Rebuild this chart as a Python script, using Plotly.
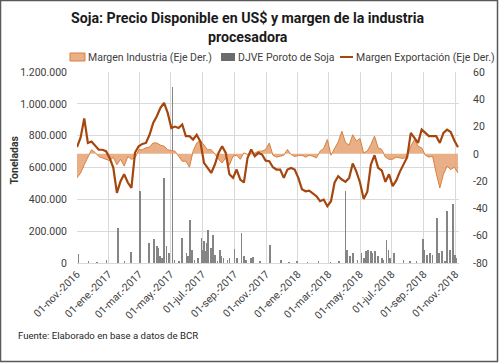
import pandas as pd
import plotly.graph_objects as go

# ---------------- data ----------------
week_start = "2016-11-01"
n_weeks = 106
dates = pd.date_range(week_start, periods=n_weeks, freq="7D")

margen_exportacion = [
    5, 12, 26, 8, 9, 5.6, 3, 3, 2, -3,
    -10, -28.6, -20, -15, -21, -25, 1, 5.6, 7.3, 8,
    14, 22.7, 27.6, 33.7, 37.4, 30, 19, 20, 19, 21.5,
    13, 13, 10.5, 14, 9, -6.6, -10, -14, -7.8, 0.7,
    5.6, 0.7, -15, -17.6, -11.5, -18.8, -21, -3, 3.2, -1.7,
    0.7, -0.5, -5, -5.4, -9.8, -11.5, -11.5, -17.6, -11.5, -10.3,
    -11.5, -17.6, -26, -27.4, -26.9, -29.3, -31, -34.7, -33.5, -38.4,
    -34.7, -21, -16.4, -18.8, -20.5, -17.6, -7, -13, -21, -33,
    -27.9, -7.8, -1, -10.3, -12.2, -20.5, -15, -23.7, -19.5, -13,
    -7.8, -2.4, 15.4, 11.7, 8, 17.8, 15.4, 13, 13, 13,
    8, 15.4, 17.8, 16, 9.8, 4.9,
]

margen_industria = [
    -17.6, -14, -8, -3, 3, 1, -2, -3, -4, -5,
    -2.5, -8, -4, -9, -2, -4, -3, 3, 3, 4.4,
    5, 8, 8, 6.4, 5.6, 3, 2.4, 2, -1.7, -5.4,
    -5.4, -9.8, 2, 8, 9.8, 6.4, 3, 3, 0, -4,
    -6.6, -3, -8.3, -1.7, -1, -4, 0.7, -0.5, 0, 0.5,
    2, 2, 3.2, 8, -1, -2.4, -1.7, -1, 3.2, -0.5,
    -2, -1.2, -1, -2.4, -1, -1.7, -3, 2, 4, 10.5,
    -1, 4.4, 8.8, 16.6, 8.3, 6.4, 14, 9.3, 11.2, 0.7,
    2, 6.8, 13, 4.4, 3.2, -2.4, -4, -4, -2.4, -3,
    -3.4, -1.7, 5.6, 10.5, 5.6, 4.4, -1, -2.4, -1.7, -14,
    -25, -15, -9, -11.5, -9.8, -14,
]

djve_fechas = [
    "2016-11-04", "2016-11-23", "2016-12-09", "2016-12-28", "2017-01-19", "2017-02-01",
    "2017-02-13", "2017-03-03", "2017-03-20", "2017-03-29", "2017-04-04", "2017-04-06",
    "2017-04-10", "2017-04-14", "2017-04-18", "2017-04-23", "2017-04-27", "2017-05-04",
    "2017-05-08", "2017-05-17", "2017-05-23", "2017-05-31", "2017-06-03", "2017-06-07",
    "2017-06-11", "2017-06-16", "2017-06-22", "2017-06-29", "2017-07-01", "2017-07-04",
    "2017-07-06", "2017-07-10", "2017-07-12", "2017-07-17", "2017-07-21", "2017-07-25",
    "2017-07-30", "2017-08-04", "2017-08-07", "2017-08-11", "2017-08-18", "2017-08-22",
    "2017-09-01", "2017-09-06", "2017-09-14", "2017-09-19", "2017-09-23", "2017-10-03",
    "2017-10-07", "2017-10-20", "2017-11-08", "2017-11-29", "2017-12-15", "2017-12-31",
    "2018-01-20", "2018-02-10", "2018-03-05", "2018-03-22",
    "2018-04-03", "2018-04-06", "2018-04-12", "2018-04-18", "2018-04-26", "2018-05-04",
    "2018-05-09", "2018-05-13", "2018-05-17", "2018-05-22", "2018-05-25", "2018-05-30",
    "2018-06-05", "2018-06-12", "2018-06-15", "2018-06-21", "2018-06-25", "2018-06-28",
    "2018-07-06", "2018-07-24", "2018-08-05", "2018-08-18", "2018-08-30", "2018-09-01",
    "2018-09-07", "2018-09-13", "2018-09-18", "2018-09-26", "2018-09-30", "2018-10-06",
    "2018-10-12", "2018-10-16", "2018-10-22", "2018-10-27", "2018-10-31", "2018-11-03",
]
djve_toneladas = [
    56000, 10000, 6000, 20000, 220000, 8000,
    69000, 454000, 126000, 150000, 105000, 94000,
    42000, 31000, 534000, 105000, 63000, 1105000,
    21000, 15000, 157000, 63000, 42000, 272000,
    84000, 21000, 31000, 157000, 84000, 136000,
    73000, 126000, 209000, 94000, 174000, 52000,
    10000, 84000, 42000, 31000, 21000, 31000,
    90000, 31000, 188000, 42000, 21000, 31000,
    35000, 8000, 115000, 21000, 6000, 10000,
    6000, 8000, 6000, 8000,
    450000, 84000, 42000, 63000, 21000, 63000,
    31000, 77000, 84000, 73000, 63000, 77000,
    42000, 31000, 21000, 147000, 84000, 31000,
    63000, 21000, 10000, 8000, 153000, 84000,
    52000, 63000, 52000, 283000, 63000, 77000,
    10000, 325000, 84000, 370000, 52000, 31000,
]

tick_fechas = ["2016-11-01", "2017-01-01", "2017-03-01", "2017-05-01", "2017-07-01",
               "2017-09-01", "2017-11-01", "2018-01-01", "2018-03-01", "2018-05-01",
               "2018-07-01", "2018-09-01", "2018-11-01"]
tick_textos = ["01-nov.-2016", "01-ene.-2017", "01-mar.-2017", "01-may.-2017", "01-jul.-2017",
               "01-sep.-2017", "01-nov.-2017", "01-ene.-2018", "01-mar.-2018", "01-may.-2018",
               "01-jul.-2018", "01-sep.-2018", "01-nov.-2018"]
der_vals = [60, 40, 20, 0, -20, -40, -60, -80]
der_text = ["60", "40", "20", "0", "-20", "-40", "-60", "-80"]

nombre_ind = "Margen Industria (Eje Der.)"
nombre_djve = "DJVE Poroto de Soja"
nombre_exp = "Margen Exportación (Eje Der.)"

# ---------------- styling ----------------
FONT = "Roboto, Liberation Sans, sans-serif"
TFONT = "Roboto, Liberation Sans, Arial, sans-serif"
FS = 10.5
TXT = "#404040"
C_FILL = "rgba(230,165,120,0.88)"
C_FLINE = "#d9803e"
C_BAR = "#858585"
C_LINE = "#a5460f"

L, R, T, B = 77, 459, 72, 263
W, H = R - L, B - T
def px_x(p):
    return (p - L) / W
def px_y(p):
    return (B - p) / H

fig = go.Figure()
fig.add_trace(go.Scatter(
    x=dates, y=margen_industria, name=nombre_ind,
    mode="lines", fill="tozeroy", fillcolor=C_FILL,
    line=dict(color=C_FLINE, width=1), yaxis="y2"))
fig.add_trace(go.Bar(
    x=djve_fechas, y=djve_toneladas, name=nombre_djve,
    marker=dict(color=C_BAR, line=dict(width=0)),
    width=1.2 * 86400000, yaxis="y"))
fig.add_trace(go.Scatter(
    x=dates, y=margen_exportacion, name=nombre_exp,
    mode="lines", line=dict(color=C_LINE, width=2.2), yaxis="y2"))

shapes = [
    # frame
    dict(type="rect", xref="paper", yref="paper",
         x0=px_x(0.5), x1=px_x(497.5), y0=px_y(361.5), y1=px_y(0.5),
         line=dict(color="#595959", width=1.5), layer="below"),
    # legend swatches
    dict(type="rect", xref="paper", yref="paper",
         x0=px_x(70), x1=px_x(85), y0=px_y(61), y1=px_y(53),
         fillcolor=C_FILL, line=dict(color=C_FLINE, width=1)),
    dict(type="rect", xref="paper", yref="paper",
         x0=px_x(221), x1=px_x(235), y0=px_y(61), y1=px_y(53),
         fillcolor="#6b6b6b", line=dict(width=0)),
    dict(type="line", xref="paper", yref="paper",
         x0=px_x(340), x1=px_x(353), y0=px_y(57), y1=px_y(57),
         line=dict(color=C_LINE, width=2)),
]

def ann(text, x, y, size=FS, color=TXT, family=FONT, xanchor="left", angle=0):
    return dict(text=text, xref="paper", yref="paper", x=px_x(x), y=px_y(y),
                xanchor=xanchor, yanchor="middle", showarrow=False, textangle=angle,
                font=dict(family=family, size=size, color=color))

annotations = [
    ann("<b>Soja: Precio Disponible en US$ y margen de la industria</b>", 247.5, 18,
        size=14.2, color="#1a1a1a", family=TFONT, xanchor="center"),
    ann("<b>procesadora</b>", 247.5, 37, size=14.2, color="#1a1a1a", family=TFONT,
        xanchor="center"),
    ann(nombre_ind, 86, 57),
    ann(nombre_djve, 236, 57),
    ann(nombre_exp, 354, 57),
    ann("Fuente: Elaborado en base a datos de BCR", 16, 335, size=9.6, color="#262626"),
    ann("<b>Toneladas</b>", 13.5, 160, color="#333333", xanchor="center", angle=-90),
]

fig.update_layout(
    width=500, height=363,
    margin=dict(l=L, r=500 - R, t=T, b=363 - B),
    paper_bgcolor="white", plot_bgcolor="white",
    separators=",.",
    font=dict(family=FONT, size=FS, color=TXT),
    showlegend=False,
    bargap=0,
    shapes=shapes,
    annotations=annotations,
    xaxis=dict(type="date", range=["2016-11-01", "2018-11-08"], automargin=False,
               tickvals=tick_fechas, ticktext=tick_textos, tickangle=-45,
               showgrid=True, gridcolor="#d9d9d9", gridwidth=1,
               showline=True, linecolor="#d9d9d9", ticks="", zeroline=False,
               tickfont=dict(family=FONT, size=FS, color=TXT)),
    yaxis=dict(range=[0, 1200000], dtick=200000, tickformat=",.0f", automargin=False,
               showgrid=True, gridcolor="#d9d9d9", zeroline=False, showline=False,
               ticklabelstandoff=9,
               tickfont=dict(family=FONT, size=FS, color=TXT)),
    yaxis2=dict(range=[-80, 60], tickvals=der_vals, ticktext=der_text, automargin=False,
                overlaying="y", side="right", showgrid=False, zeroline=False,
                showline=False, ticklabelstandoff=13,
                tickfont=dict(family=FONT, size=FS, color=TXT)),
)

fig.write_html("out.html", post_script="document.body.style.margin='0';",
               config={"displayModeBar": False})
